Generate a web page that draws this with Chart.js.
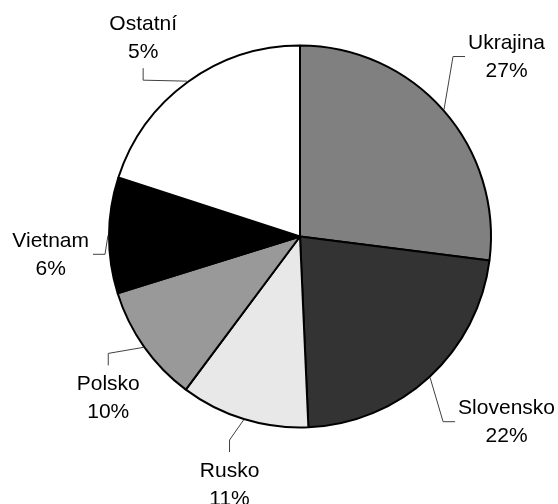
<!DOCTYPE html>
<html>
<head>
<meta charset="utf-8">
<script src="https://cdn.jsdelivr.net/npm/chart.js@4/dist/chart.umd.min.js"></script>
<style>
  html, body { margin: 0; padding: 0; background: #ffffff; }
  #wrap { width: 558px; height: 504px; }
</style>
</head>
<body>
<div id="wrap"><canvas id="c" width="558" height="504"></canvas></div>
<script>
// ---- data ----
const categories = ['Ukrajina', 'Slovensko', 'Rusko', 'Polsko', 'Vietnam', 'Ostatní'];
const sliceValues = [27, 22.3, 10.9, 10.0, 9.8, 20.0];
const percentLabels = ['27%', '22%', '11%', '10%', '6%', '5%'];

// ---- styling ----
const sliceColors = ['#808080', '#333333', '#e8e8e8', '#999999', '#000000', '#ffffff'];
// leader-line elbow offsets (from slice edge midpoint) and direction of the last stub
const labelLayout = [
  { dx: 9,   dy: -53, dir: 'right' },
  { dx: 13,  dy: 44,  dir: 'right' },
  { dx: -14, dy: 20,  dir: 'down'  },
  { dx: -35, dy: 6,   dir: 'down'  },
  { dx: -3,  dy: 19,  dir: 'left'  },
  { dx: -44, dy: -1,  dir: 'up'    }
];
const FONT = '21px "Liberation Sans", Arial, sans-serif';
const LINE_H = 28;
const STUB = 12;

const outsideLabels = {
  id: 'outsideLabels',
  afterDraw(chart) {
    const ctx = chart.ctx;
    const meta = chart.getDatasetMeta(0);
    ctx.save();
    ctx.font = FONT;
    meta.data.forEach((arc, i) => {
      const p = arc.getProps(['x', 'y', 'startAngle', 'endAngle', 'outerRadius'], true);
      const mid = (p.startAngle + p.endAngle) / 2;
      const ex = p.x + Math.cos(mid) * (p.outerRadius + 1);
      const ey = p.y + Math.sin(mid) * (p.outerRadius + 1);
      const L = labelLayout[i];
      const bx = ex + L.dx, by = ey + L.dy;
      let sx = bx, sy = by;
      if (L.dir === 'right') sx = bx + STUB;
      if (L.dir === 'left') sx = bx - STUB;
      if (L.dir === 'down') sy = by + STUB;
      if (L.dir === 'up') sy = by - STUB;
      ctx.strokeStyle = '#404040';
      ctx.lineWidth = 1;
      ctx.beginPath();
      ctx.moveTo(ex, ey);
      ctx.lineTo(bx, by);
      ctx.lineTo(sx, sy);
      ctx.stroke();

      const lines = [categories[i], percentLabels[i]];
      const w = Math.max(...lines.map(t => ctx.measureText(t).width));
      let cx, topY;
      if (L.dir === 'right') { cx = sx + 3 + w / 2; topY = sy - LINE_H; }
      if (L.dir === 'left')  { cx = sx - 4 - w / 2; topY = sy - LINE_H; }
      if (L.dir === 'down')  { cx = sx; topY = sy + 4; }
      if (L.dir === 'up')    { cx = sx; topY = sy - 3 - 2 * LINE_H; }
      ctx.fillStyle = '#000000';
      ctx.textAlign = 'center';
      ctx.textBaseline = 'middle';
      lines.forEach((t, k) => ctx.fillText(t, cx, topY + LINE_H / 2 + k * LINE_H + 1));
    });
    ctx.restore();
  }
};

new Chart(document.getElementById('c'), {
  type: 'pie',
  data: {
    labels: categories,
    datasets: [{
      data: sliceValues,
      backgroundColor: sliceColors,
      borderColor: '#000000',
      borderWidth: 2,
      radius: 191
    }]
  },
  options: {
    responsive: false,
    animation: false,
    layout: { padding: { left: 42, right: 0, top: 0, bottom: 31 } },
    plugins: {
      legend: { display: false },
      tooltip: { enabled: false }
    }
  },
  plugins: [outsideLabels]
});
</script>
</body>
</html>
